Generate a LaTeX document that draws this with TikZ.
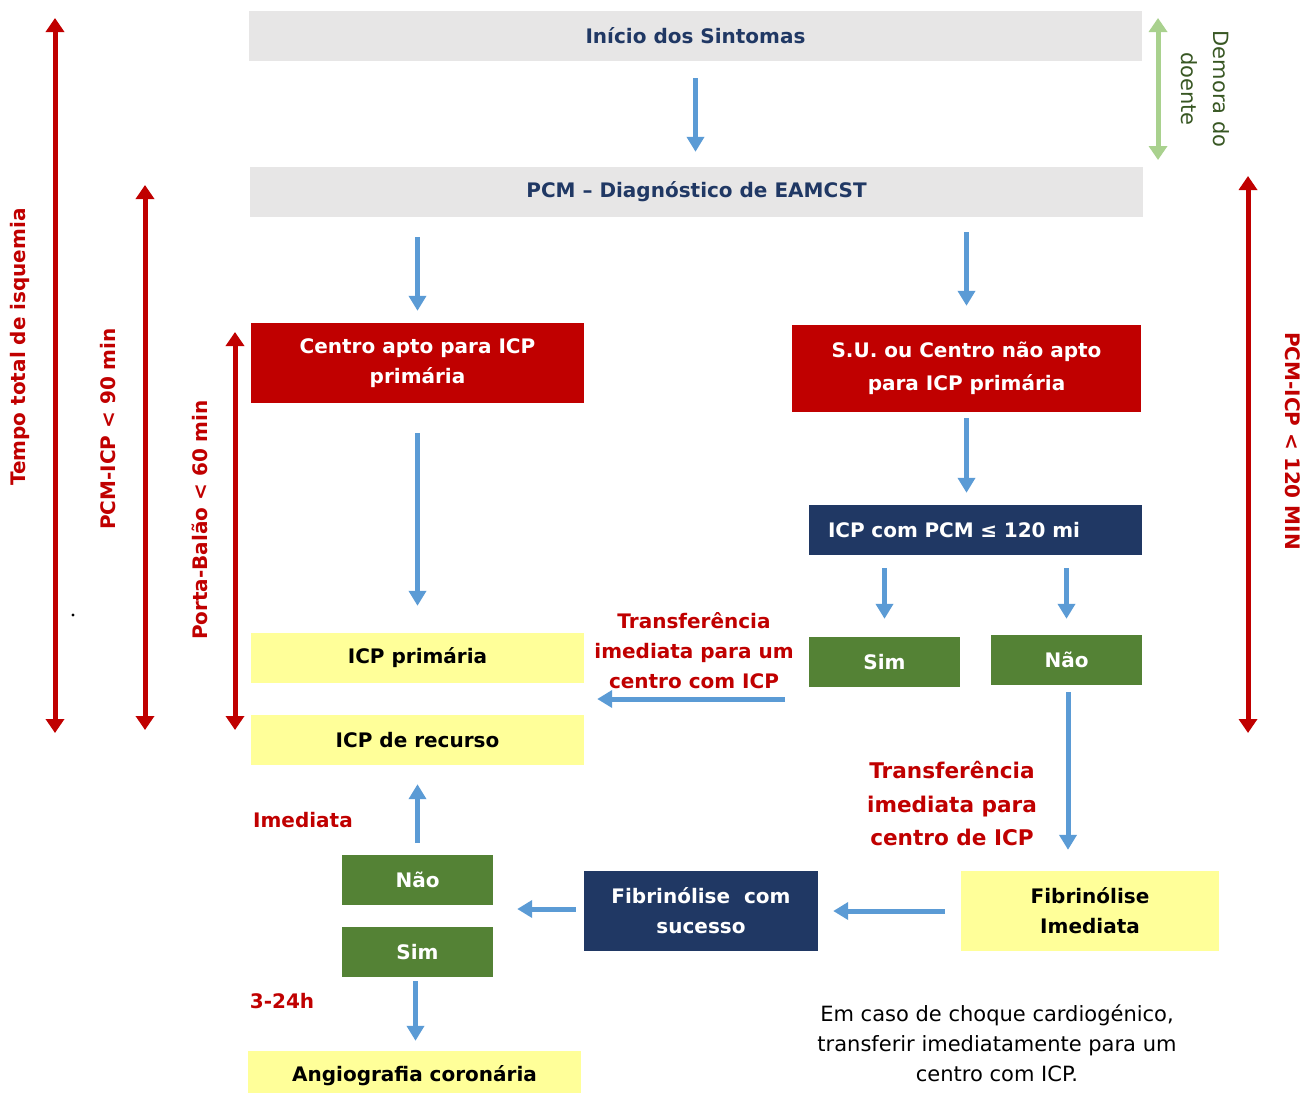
\documentclass[tikz,border=0pt]{standalone}
\usepackage{fontspec}
\setmainfont{DejaVu Sans}
\usetikzlibrary{arrows.meta,positioning}
\definecolor{cinza}{HTML}{E7E6E6}
\definecolor{marinho}{HTML}{203864}
\definecolor{vermelho}{HTML}{C00000}
\definecolor{verde}{HTML}{548235}
\definecolor{amarelo}{HTML}{FFFF99}
\definecolor{seta}{HTML}{5B9BD5}
\definecolor{verdeclaro}{HTML}{A9D18E}
\definecolor{verdetexto}{HTML}{385723}

\begin{document}
\begin{tikzpicture}[x=1pt, y=-1pt, font=\fontsize{20}{30}\selectfont\bfseries,
    caixa/.style={inner sep=0pt, align=center, minimum height=50pt},
    cinzabox/.style={caixa, fill=cinza, text=marinho, minimum width=893pt},
    vermbox/.style={caixa, fill=vermelho, text=white, minimum width=333pt},
    marbox/.style={caixa, fill=marinho, text=white},
    verdebox/.style={caixa, fill=verde, text=white, minimum width=151pt},
    amarbox/.style={caixa, fill=amarelo, text=black, minimum width=333pt},
    rotulo/.style={text=vermelho, align=center},
    fluxo/.style={seta, line width=5pt, -{Triangle[width=17pt,length=15pt]}},
    tempo/.style={vermelho, line width=5pt, {Triangle[width=18pt,length=14pt]}-{Triangle[width=18pt,length=14pt]}}]
  \useasboundingbox (0,0) rectangle (1313,1092);

  % caixas principais
  \node[cinzabox] (inicio) at (695.5,36) {Início dos Sintomas};
  \node[cinzabox] (pcm) at (696.5,192) {PCM -- Diagnóstico de EAMCST};
  \node[vermbox, minimum height=80pt] (centro) at (417.5,363) {Centro apto para ICP\\primária};
  \node[vermbox, minimum width=349pt, minimum height=87pt] (su) at (966.5,368.5) {S.U. ou Centro não apto\\[3pt]para ICP primária};
  \node[marbox, text width=295pt, inner xsep=19pt, align=left] (icpcom) at (975.5,530) {ICP com PCM ≤ 120 mi};
  \node[verdebox] (sim) at (884.5,662) {Sim};
  \node[verdebox] (nao) at (1066.5,660) {Não};
  \node[amarbox] (icpprim) at (417.5,658) {ICP primária};
  \node[amarbox] (recurso) at (417.5,740) {ICP de recurso};
  \node[amarbox, minimum width=258pt, minimum height=80pt] (fibimed) at (1090,911) {Fibrinólise\\Imediata};
  \node[marbox, minimum width=234pt, minimum height=80pt] (fibsuc) at (701,911) {Fibrinólise~ com\\sucesso};
  \node[verdebox] (nao2) at (417.5,880) {Não};
  \node[verdebox] (sim2) at (417.5,952) {Sim};
  \node[amarbox] (angio) at (414.5,1076) {Angiografia coronária};

  % setas
  \draw[fluxo, shorten <=17pt, shorten >=15pt] (inicio.south) -- (pcm.north -| inicio.south);
  \draw[fluxo, shorten <=20pt, shorten >=12pt] (pcm.south -| centro.north) -- (centro.north);
  \draw[fluxo, shorten <=15pt, shorten >=19pt] (pcm.south -| su.north) -- (su.north);
  \draw[fluxo, shorten <=30pt, shorten >=27pt] (centro.south) -- (icpprim.north);
  \draw[fluxo, shorten <=6pt, shorten >=12pt] (su.south) -- (su.south |- icpcom.north);
  \draw[fluxo, shorten <=13pt, shorten >=18pt] (icpcom.south -| sim.north) -- (sim.north);
  \draw[fluxo, shorten <=13pt, shorten >=16pt] (icpcom.south -| nao.north) -- (nao.north);
  \coordinate (transf) at (785,699);
  \draw[fluxo, shorten >=13pt] (transf) -- (transf -| icpprim.east);
  \draw[fluxo, shorten <=7pt, shorten >=21pt] ([xshift=1.5pt]nao.south) -- ([xshift=1.5pt]nao.south |- fibimed.north);
  \draw[fluxo, shorten <=16pt, shorten >=15pt] (fibimed.west) -- (fibsuc.east);
  \coordinate (escolha) at ([yshift=2pt]fibsuc.west);
  \draw[fluxo, shorten <=8pt, shorten >=24pt] (escolha) -- (escolha -| nao2.east);
  \draw[fluxo, shorten <=12pt, shorten >=19pt] (nao2.north) -- (recurso.south);
  \draw[fluxo, shorten <=4pt, shorten >=10pt] ([xshift=-2pt]sim2.south) -- ([xshift=-2pt]sim2.south |- angio.north);

  % rotulos
  \node[rotulo] (rot1) at (694,651) {Transferência\\imediata para um\\centro com ICP};
  \node[rotulo, font=\fontsize{21.6}{33.5}\selectfont\bfseries] (rot2) at (952,804) {Transferência\\imediata para\\centro de ICP};
  \node[rotulo] (imed) at (303,820) {Imediata};
  \node[rotulo] (horas) at (282,1001) {3-24h};
  \node[align=center, font=\fontsize{21}{30}\selectfont] (nota) at (997,1043) {Em caso de choque cardiogénico,\\transferir imediatamente para um\\centro com ICP.};

  % tempos
  \draw[tempo] (55,18) -- (55,733);
  \draw[tempo] (145,185) -- (145,730);
  \draw[tempo] (235,332) -- (235,730);
  \draw[tempo] (1248,176) -- (1248,733);
  \draw[verdeclaro, line width=5pt, {Triangle[width=18pt,length=14pt]}-{Triangle[width=18pt,length=14pt]}] (1158,18) -- (1158,160);
  \node[rotulo, rotate=90] (isq) at (20,347) {Tempo total de isquemia};
  \node[rotulo, rotate=90] (t90) at (108,429) {PCM-ICP < 90 min};
  \node[rotulo, rotate=90] (t60) at (200,520) {Porta-Balão < 60 min};
  \node[rotulo, rotate=-90] (t120) at (1293,441) {PCM-ICP < 120 MIN};
  \node[text=verdetexto, align=center, rotate=-90, font=\fontsize{21}{32}\selectfont] (demora) at (1205,89) {Demora do\\doente};
  \fill (73,615) circle (1.6pt);
\end{tikzpicture}
\end{document}
